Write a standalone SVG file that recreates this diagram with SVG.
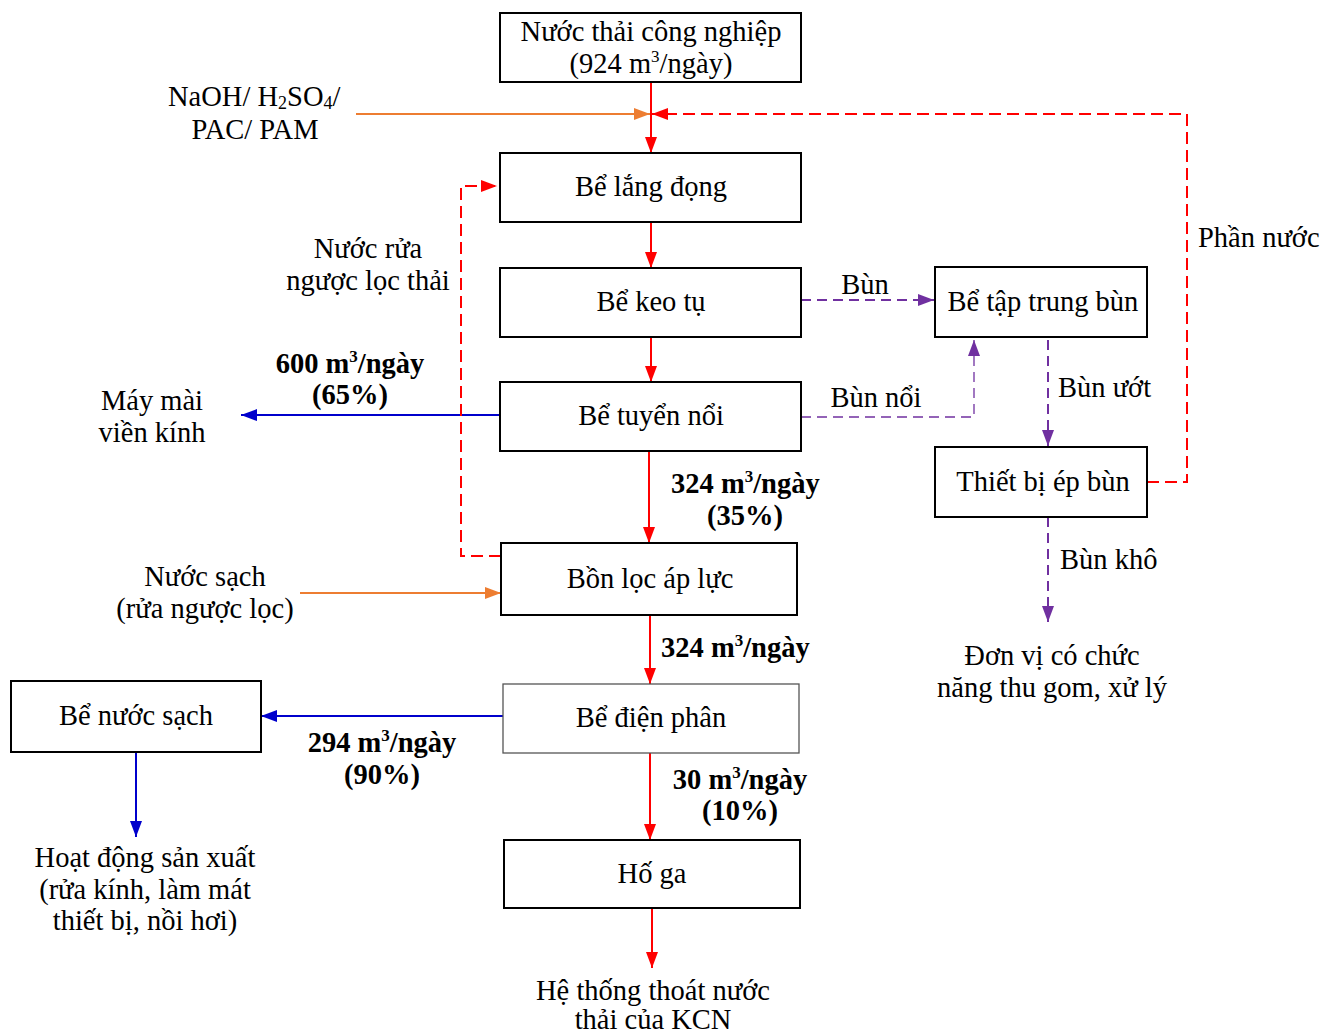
<svg xmlns="http://www.w3.org/2000/svg" width="1333" height="1034" viewBox="0 0 1333 1034">
<style>
text{font-family:"Liberation Serif","Times New Roman",serif;font-size:28.5px;fill:#000}
.c{text-anchor:middle}
.b{font-weight:bold}
.box{fill:#fff;stroke:#000;stroke-width:2}
.red{stroke:#ff0000;stroke-width:2;fill:none}
.redd{stroke:#ff0000;stroke-width:2;fill:none;stroke-dasharray:12 6}
.org{stroke:#ed7d31;stroke-width:2;fill:none}
.blu{stroke:#0000cc;stroke-width:2;fill:none}
.pur{stroke:#7030a0;stroke-width:2;fill:none;stroke-dasharray:10 6}
.purt{stroke:#7030a0;stroke-width:1.3;fill:none;stroke-dasharray:10 6}
</style>
<defs>
<marker id="aR" markerUnits="userSpaceOnUse" markerWidth="16" markerHeight="12" refX="16" refY="6" orient="auto"><path d="M0,0 L16,6 L0,12 z" fill="#ff0000"/></marker>
<marker id="aO" markerUnits="userSpaceOnUse" markerWidth="16" markerHeight="12" refX="16" refY="6" orient="auto"><path d="M0,0 L16,6 L0,12 z" fill="#ed7d31"/></marker>
<marker id="aB" markerUnits="userSpaceOnUse" markerWidth="16" markerHeight="12" refX="16" refY="6" orient="auto"><path d="M0,0 L16,6 L0,12 z" fill="#0000cc"/></marker>
<marker id="aP" markerUnits="userSpaceOnUse" markerWidth="16" markerHeight="12" refX="16" refY="6" orient="auto"><path d="M0,0 L16,6 L0,12 z" fill="#7030a0"/></marker>
</defs>

<g id="connectors">
<line class="red" x1="651" y1="82" x2="651" y2="153" marker-end="url(#aR)"/>
<line class="org" x1="356" y1="114" x2="650" y2="114" marker-end="url(#aO)"/>
<polyline class="redd" points="1147,482 1187,482 1187,114 652,114" marker-end="url(#aR)"/>
<line class="red" x1="651" y1="222" x2="651" y2="268" marker-end="url(#aR)"/>
<line class="red" x1="651" y1="337" x2="651" y2="382" marker-end="url(#aR)"/>
<line class="red" x1="649" y1="451" x2="649" y2="543" marker-end="url(#aR)"/>
<line class="red" x1="650" y1="615" x2="650" y2="684" marker-end="url(#aR)"/>
<line class="red" x1="650" y1="753" x2="650" y2="840" marker-end="url(#aR)"/>
<line class="red" x1="652" y1="908" x2="652" y2="968" marker-end="url(#aR)"/>
<line class="blu" x1="500" y1="415" x2="241" y2="415" marker-end="url(#aB)"/>
<line class="blu" x1="503" y1="716" x2="261" y2="716" marker-end="url(#aB)"/>
<line class="blu" x1="136" y1="752" x2="136" y2="837" marker-end="url(#aB)"/>
<polyline class="redd" points="501,556 461,556 461,186 497,186" marker-end="url(#aR)"/>
<line class="org" x1="300" y1="593" x2="501" y2="593" marker-end="url(#aO)"/>
<line class="pur" x1="801" y1="300" x2="934" y2="300" marker-end="url(#aP)"/>
<polyline class="purt" points="801,417 974,417 974,340" marker-end="url(#aP)"/>
<line class="pur" x1="1048" y1="340" x2="1048" y2="446" marker-end="url(#aP)"/>
<line class="pur" x1="1048" y1="517" x2="1048" y2="622" marker-end="url(#aP)"/>
</g>

<g id="n-nuocthai"><rect class="box" x="500" y="13" width="301" height="69"/>
<text class="c" x="651" y="41">Nước thải công nghiệp</text>
<text class="c" x="651" y="73">(924 m<tspan font-size="17" dy="-11">3</tspan><tspan dy="11">/ngày)</tspan></text></g>
<g id="n-langdong"><rect class="box" x="500" y="153" width="301" height="69"/><text class="c" x="651" y="196">Bể lắng đọng</text></g>
<g id="n-keotu"><rect class="box" x="500" y="268" width="301" height="69"/><text class="c" x="651" y="311">Bể keo tụ</text></g>
<g id="n-tuyennoi"><rect class="box" x="500" y="382" width="301" height="69"/><text class="c" x="651" y="425">Bể tuyển nổi</text></g>
<g id="n-locapluc"><rect class="box" x="501" y="543" width="296" height="72"/><text class="c" x="650" y="588">Bồn lọc áp lực</text></g>
<g id="n-dienphan"><rect class="box" x="503" y="684" width="296" height="69" style="stroke:#555;stroke-width:1.3"/><text class="c" x="651" y="727">Bể điện phân</text></g>
<g id="n-hoga"><rect class="box" x="504" y="840" width="296" height="68"/><text class="c" x="652" y="883">Hố ga</text></g>
<g id="n-nuocsach"><rect class="box" x="11" y="681" width="250" height="71"/><text class="c" x="136" y="725">Bể nước sạch</text></g>
<g id="n-taptrungbun"><rect class="box" x="935" y="267" width="212" height="70"/><text class="c" x="1043" y="311">Bể tập trung bùn</text></g>
<g id="n-epbun"><rect class="box" x="935" y="447" width="212" height="70"/><text class="c" x="1043" y="491">Thiết bị ép bùn</text></g>

<g id="labels">
<text x="168" y="106">NaOH/ H<tspan font-size="18" dy="3">2</tspan><tspan dy="-3">SO</tspan><tspan font-size="18" dy="3">4</tspan><tspan dy="-3">/</tspan></text>
<text class="c" x="255" y="139">PAC/ PAM</text>
<text x="1198" y="247">Phần nước</text>
<text class="c" x="368" y="258">Nước rửa</text>
<text class="c" x="368" y="290">ngược lọc thải</text>
<text class="c b" x="350" y="373">600 m<tspan font-size="17" dy="-11">3</tspan><tspan dy="11">/ngày</tspan></text>
<text class="c b" x="350" y="404">(65%)</text>
<text class="c" x="152" y="410">Máy mài</text>
<text class="c" x="152" y="442">viền kính</text>
<text class="c" x="865" y="294">Bùn</text>
<text class="c" x="876" y="407">Bùn nổi</text>
<text x="1058" y="397">Bùn ướt</text>
<text x="1060" y="569">Bùn khô</text>
<text class="c" x="1052" y="665">Đơn vị có chức</text>
<text class="c" x="1052" y="697">năng thu gom, xử lý</text>
<text class="b" x="671" y="493">324 m<tspan font-size="17" dy="-11">3</tspan><tspan dy="11">/ngày</tspan></text>
<text class="c b" x="745" y="525">(35%)</text>
<text class="c" x="205" y="586">Nước sạch</text>
<text class="c" x="205" y="618">(rửa ngược lọc)</text>
<text class="b" x="661" y="657">324 m<tspan font-size="17" dy="-11">3</tspan><tspan dy="11">/ngày</tspan></text>
<text class="c b" x="382" y="752">294 m<tspan font-size="17" dy="-11">3</tspan><tspan dy="11">/ngày</tspan></text>
<text class="c b" x="382" y="784">(90%)</text>
<text class="c b" x="740" y="789">30 m<tspan font-size="17" dy="-11">3</tspan><tspan dy="11">/ngày</tspan></text>
<text class="c b" x="740" y="820">(10%)</text>
<text class="c" x="145" y="867">Hoạt động sản xuất</text>
<text class="c" x="145" y="899">(rửa kính, làm mát</text>
<text class="c" x="145" y="930">thiết bị, nồi hơi)</text>
<text class="c" x="653" y="1000">Hệ thống thoát nước</text>
<text class="c" x="653" y="1029">thải của KCN</text>
</g>
</svg>
